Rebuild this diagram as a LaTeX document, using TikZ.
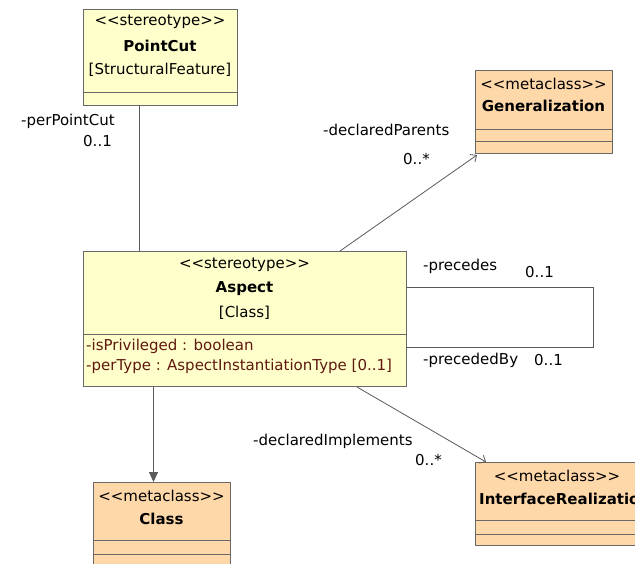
\documentclass[tikz,border=0pt]{standalone}
\usepackage{fontspec}
\setmainfont{DejaVu Sans}
\usetikzlibrary{positioning,arrows.meta}
\definecolor{stereofill}{RGB}{255,255,204}
\definecolor{metafill}{RGB}{255,216,170}
\definecolor{boxline}{RGB}{105,105,105}
\definecolor{attrtext}{RGB}{95,25,15}
\tikzset{
  umlbox/.style={draw=boxline, line width=1pt, anchor=north west, inner sep=0pt},
  stereobox/.style={umlbox, fill=stereofill},
  metabox/.style={umlbox, fill=metafill},
  lbl/.style={font=\fontsize{15}{17}\selectfont, inner sep=0pt},
  role/.style={lbl, anchor=west},
  attr/.style={lbl, anchor=west, text=attrtext},
  assoc/.style={draw=boxline!85!black, line width=0.8pt},
}

\begin{document}
\begin{tikzpicture}[x=1pt,y=-1pt]
\useasboundingbox (0,0) rectangle (635,563);
\clip (0,0) rectangle (635,563);

% classes
\node (pointcut) [stereobox, minimum width=154pt, minimum height=96pt] at (83,9) {};
\draw[boxline] ([yshift=14pt]pointcut.south west) -- ([yshift=14pt]pointcut.south east);
\node (pcst) [lbl] at (160,22) {<{}<stereotype>{}>};
\node (pcname) [lbl] at (160,46) {\bfseries PointCut};
\node (pcbase) [lbl] at (160,70) {[StructuralFeature]};

\node (aspect) [stereobox, minimum width=323pt, minimum height=135pt] at (83,251) {};
\draw[boxline] ([yshift=53pt]aspect.south west) -- ([yshift=53pt]aspect.south east);
\node (asst) [lbl] at (244.5,265) {<{}<stereotype>{}>};
\node (asname) [lbl] at (244.5,289) {\bfseries Aspect};
\node (asbase) [lbl] at (244.5,313) {[Class]};
\node (priv) [attr] at (86,346) {-isPrivileged : boolean};
\node (pertype) [attr] at (86,366) {-perType : AspectInstantiationType [0..1]};

\node (gen) [metabox, minimum width=137pt, minimum height=83pt] at (475,70) {};
\draw[boxline] ([yshift=25pt]gen.south west) -- ([yshift=25pt]gen.south east);
\draw[boxline] ([yshift=13pt]gen.south west) -- ([yshift=13pt]gen.south east);
\node (genst) [lbl] at (543.5,84) {<{}<metaclass>{}>};
\node (genname) [lbl] at (543.5,106) {\bfseries Generalization};

\node (cls) [metabox, minimum width=137pt, minimum height=85pt] at (93,482) {};
\draw[boxline] ([yshift=28pt]cls.south west) -- ([yshift=28pt]cls.south east);
\draw[boxline] ([yshift=14pt]cls.south west) -- ([yshift=14pt]cls.south east);
\node (clsst) [lbl] at (161.5,496) {<{}<metaclass>{}>};
\node (clsname) [lbl] at (161.5,519) {\bfseries Class};

\node (ir) [metabox, minimum width=164pt, minimum height=83pt] at (475,462) {};
\draw[boxline] ([yshift=26pt]ir.south west) -- ([yshift=26pt]ir.south east);
\draw[boxline] ([yshift=12pt]ir.south west) -- ([yshift=12pt]ir.south east);
\node (irst) [lbl] at (557,476) {<{}<metaclass>{}>};
\node (irname) [lbl, anchor=west] at (479,499) {\bfseries InterfaceRealization};

% connectors
\draw[assoc] ([xshift=-21pt]pointcut.south) -- ([xshift=-21pt]pointcut.south |- aspect.north);
\draw[assoc, -{Straight Barb[length=5pt,width=9pt]}] ([xshift=95pt]aspect.north) -- ([xshift=2pt,yshift=-1pt]gen.south west);
\draw[assoc, -{Straight Barb[length=5pt,width=9pt]}] ([xshift=112pt]aspect.south) -- ([xshift=11pt]ir.north west);
\draw[assoc, -{Triangle[length=10pt,width=9pt]}] ([xshift=-91.5pt]aspect.south) -- ([xshift=-91.5pt]aspect.south |- cls.north);
\draw[assoc] ([yshift=31.5pt]aspect.east) -- ++(186,0) |- ([yshift=-28.5pt]aspect.east);

% roles
\node (perpc) [role] at (21,121) {-perPointCut};
\node (perpcm) [role] at (83,141) {0..1};
\node (declpar) [role] at (323,130) {-declaredParents};
\node (declparm) [role] at (403,159) {0..*};
\node (prec) [role] at (423,266) {-precedes};
\node (precm) [role] at (525,272) {0..1};
\node (precby) [role] at (423,360) {-precededBy};
\node (precbym) [role] at (534,360) {0..1};
\node (declimp) [role] at (253,441) {-declaredImplements};
\node (declimpm) [role] at (415,460) {0..*};
\end{tikzpicture}
\end{document}
